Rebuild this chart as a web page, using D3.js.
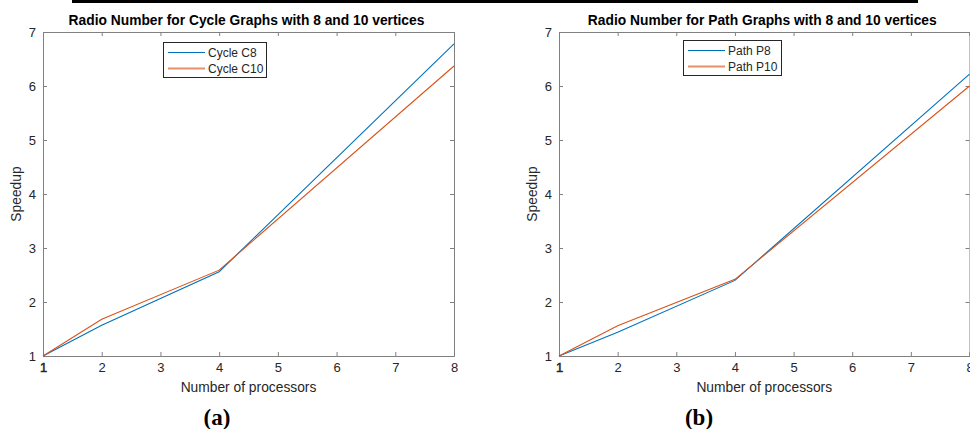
<!DOCTYPE html>
<html><head><meta charset="utf-8">
<script src="https://cdn.jsdelivr.net/npm/d3@7"></script>
<style>
body{margin:0;background:#fff;}
svg{display:block;font-family:"Liberation Sans",Arial,Helvetica,sans-serif;}
</style></head>
<body>
<svg id="chart" width="970" height="429"></svg>
<script>
const processors = [1, 2, 4, 8];
const xTicks = [1, 2, 3, 4, 5, 6, 7, 8];
const yTicks = [1, 2, 3, 4, 5, 6, 7];

const cycleC8 = [1, 1.57, 2.56, 6.78];
const cycleC10 = [1, 1.68, 2.59, 6.37];
const pathP8 = [1, 1.44, 2.40, 6.22];
const pathP10 = [1, 1.56, 2.42, 6.00];

const titles = ["Radio Number for Cycle Graphs with 8 and 10 vertices",
                "Radio Number for Path Graphs with 8 and 10 vertices"];
const legendNames = [["Cycle C8", "Cycle C10"], ["Path P8", "Path P10"]];
const panelLabels = ["(a)", "(b)"];
const colors = ["#0072BD", "#D95319"];

const svg = d3.select("#chart");
const axisColor = "#808080";
const textColor = "#262626";

// top black rule
svg.append("rect").attr("x", 72).attr("y", 0).attr("width", 846).attr("height", 3).attr("fill", "#000");

const panels = [
  {x0: 43, x1: 454, series: [cycleC8, cycleC10], legend: {x: 163, y: 42, w: 103, h: 35}},
  {x0: 559, x1: 969.5, series: [pathP8, pathP10], legend: {x: 683, y: 40, w: 98, h: 35}}
];
const yTop = 32, yBot = 356;

panels.forEach((p, i) => {
  const x = d3.scaleLinear().domain([1, 8]).range([p.x0, p.x1]);
  const y = d3.scaleLinear().domain([1, 7]).range([yBot, yTop]);
  const g = svg.append("g");

  // axes box
  const axB = g.append("g").attr("transform", `translate(0,${yBot})`)
    .call(d3.axisBottom(x).tickValues(xTicks).tickSize(-4).tickPadding(7).tickFormat(d3.format("d")));
  const axT = g.append("g").attr("transform", `translate(0,${yTop})`)
    .call(d3.axisTop(x).tickValues(xTicks).tickSize(-4).tickFormat(""));
  const axL = g.append("g").attr("transform", `translate(${p.x0},0)`)
    .call(d3.axisLeft(y).tickValues(yTicks).tickSize(-4).tickPadding(7).tickFormat(d3.format("d")));
  const axR = g.append("g").attr("transform", `translate(${p.x1},0)`)
    .call(d3.axisRight(y).tickValues(yTicks).tickSize(-4).tickFormat(""));
  [axB, axT, axL, axR].forEach(a => {
    a.select(".domain").attr("stroke", axisColor).attr("stroke-width", 1);
    a.selectAll(".tick line").attr("stroke", axisColor);
    a.selectAll("text").attr("fill", textColor).style("font-size", "13px")
      .style("font-family", '"Liberation Sans",Arial,sans-serif');
  });
  axB.selectAll(".tick").filter(d => d === 1).select("text")
    .attr("stroke", textColor).attr("stroke-width", 0.5);

  // lines
  const line = d3.line().x((d, k) => x(processors[k])).y(d => y(d));
  p.series.forEach((s, k) => {
    g.append("path").datum(s).attr("d", line).attr("fill", "none")
      .attr("stroke", colors[k]).attr("stroke-width", 1.1);
  });

  // title
  g.append("text").attr("x", (p.x0 + p.x1) / 2 - 2).attr("y", 25)
    .attr("text-anchor", "middle").attr("font-weight", "bold").style("font-size", "13.8px")
    .attr("fill", "#000").text(titles[i]);

  // axis labels
  g.append("text").attr("x", (p.x0 + p.x1) / 2).attr("y", 392).attr("text-anchor", "middle")
    .style("font-size", "13.8px").attr("fill", textColor).text("Number of processors");
  g.append("text").attr("transform", `translate(${p.x0 - 22},${(yTop + yBot) / 2}) rotate(-90)`)
    .attr("text-anchor", "middle").style("font-size", "13.8px").attr("fill", textColor).text("Speedup");

  // legend
  const L = p.legend;
  const lg = g.append("g");
  lg.append("rect").attr("x", L.x + 0.5).attr("y", L.y + 0.5).attr("width", L.w).attr("height", L.h)
    .attr("fill", "#fff").attr("stroke", "#262626").attr("stroke-width", 1);
  legendNames[i].forEach((name, k) => {
    const cy = L.y + 10.5 + k * 16;
    lg.append("line").attr("x1", L.x + 5).attr("x2", L.x + 42).attr("y1", cy).attr("y2", cy)
      .attr("stroke", colors[k]).attr("stroke-width", k === 0 ? 1.1 : 1.8).attr("stroke-opacity", k === 0 ? 1 : 0.65);
    lg.append("text").attr("x", L.x + 45).attr("y", cy + 4).style("font-size", "12px")
      .attr("fill", textColor).text(name);
  });

  // panel label
  g.append("text").attr("x", i === 0 ? 217 : 699).attr("y", 425).attr("text-anchor", "middle")
    .style("font-family", '"Liberation Serif","Times New Roman",serif').attr("font-weight", "bold")
    .style("font-size", "23px").attr("fill", "#000").text(panelLabels[i]);
});
</script>
</body></html>
